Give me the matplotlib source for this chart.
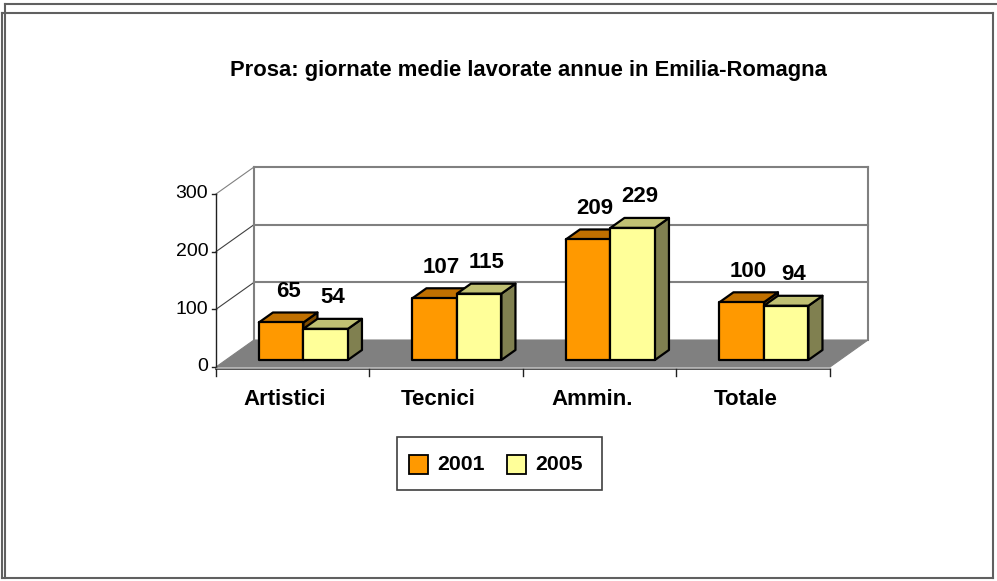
import numpy as np
import matplotlib
matplotlib.use('Agg')
import matplotlib.pyplot as plt
from matplotlib.patches import Polygon, Rectangle
from matplotlib.lines import Line2D

plt.rcParams['font.family'] = ['Liberation Sans', 'DejaVu Sans']

# Data
categories = ['Artistici', 'Tecnici', 'Ammin.', 'Totale']
series_names = ['2001', '2005']
values_2001 = [65, 107, 209, 100]
values_2005 = [54, 115, 229, 94]
yticks = [0, 100, 200, 300]
title = 'Prosa: giornate medie lavorate annue in Emilia-Romagna'

# colours: front, top, side
colors = {
    '2001': ('#FF9900', '#C07000', '#804C00'),
    '2005': ('#FFFF99', '#C0C073', '#808050'),
}

# pseudo-3d projection (depth d in 0..1)
DX = 0.2476   # category units per full depth
DY = 46.8     # value units per full depth


def proj(x, v, d):
    return (x + d * DX, v + d * DY)


fig = plt.figure(figsize=(9.97, 5.81), dpi=100)
ax = fig.add_axes([0, 0, 1, 1])
ax.set_xlim(-1.407, 5.088)
ax.set_ylim(-371.1, 636.4)
ax.axis('off')

ncat = len(categories)
vmax = yticks[-1]
grid_col = '#808080'

# floor
floor = [proj(0, 0, 0), proj(ncat, 0, 0), proj(ncat, 0, 1), proj(0, 0, 1)]
ax.add_patch(Polygon(floor, closed=True, facecolor='#808080', edgecolor='#808080', lw=0.8, zorder=1))

# back wall gridlines and edges
for t in yticks[1:]:
    xs, ys = zip(proj(0, t, 1), proj(ncat, t, 1))
    ax.plot(xs, ys, color=grid_col, lw=1.5, zorder=1)
    xs, ys = zip(proj(0, t, 0), proj(0, t, 1))
    ax.plot(xs, ys, color='#404040' if t < vmax else grid_col, lw=0.8, zorder=1)
for xe in (0, ncat):
    xs, ys = zip(proj(xe, 0, 1), proj(xe, vmax, 1))
    ax.plot(xs, ys, color=grid_col, lw=1.5, zorder=1)

# value axis (front left)
ax.plot([0, 0], [0, vmax], color='#202020', lw=1.0, zorder=2)
for t in yticks:
    ax.plot([-0.025, 0], [t, t], color='#202020', lw=1.0, zorder=2)
    ax.text(-0.05, t, str(t), ha='right', va='center', fontsize=14, zorder=3)

# category axis
ax.plot([0, ncat], [-4, -4], color='#202020', lw=1.2, zorder=2)
ax.plot([0, ncat], [-1.5, -1.5], color='#A0A0A0', lw=1.0, zorder=2)
for i in range(ncat + 1):
    ax.plot([i, i], [-4, -16], color='#202020', lw=1.0, zorder=2)
for i, c in enumerate(categories):
    ax.text(i + 0.45, -57, c, ha='center', va='center', fontsize=16, fontweight='bold', zorder=3)

# bars
bar_w = 0.29
d0, d1 = 0.26, 0.63
z = 5
for i in range(ncat):
    center = i + 0.505
    for k, (name, vals) in enumerate(zip(series_names, [values_2001, values_2005])):
        v = vals[i]
        x0 = center - bar_w + k * bar_w
        x1 = x0 + bar_w
        front_c, top_c, side_c = colors[name]
        front = [proj(x0, 0, d0), proj(x1, 0, d0), proj(x1, v, d0), proj(x0, v, d0)]
        top = [proj(x0, v, d0), proj(x1, v, d0), proj(x1, v, d1), proj(x0, v, d1)]
        side = [proj(x1, 0, d0), proj(x1, 0, d1), proj(x1, v, d1), proj(x1, v, d0)]
        for poly, col in ((side, side_c), (top, top_c), (front, front_c)):
            ax.add_patch(Polygon(poly, closed=True, facecolor=col, edgecolor='black',
                                 lw=1.6, joinstyle='round', zorder=z))
        z += 1
        lx, ly = proj(x0 + bar_w / 2, v, (d0 + d1) / 2)
        ax.text(lx, ly + 45, str(v), ha='center', va='center', fontsize=16,
                fontweight='bold', zorder=20)

# title
fig.text(0.530, 0.879, title, ha='center', va='center', fontsize=15.8, fontweight='bold')

# legend
W, H = 997.0, 581.0
fig.add_artist(Rectangle((397 / W, 1 - 490 / H), 205 / W, 53 / H, transform=fig.transFigure,
                         facecolor='white', edgecolor='#404040', lw=1.2))
for k, name in enumerate(series_names):
    sx = 409 + k * 98
    fig.add_artist(Rectangle((sx / W, 1 - 474 / H), 19 / W, 19 / H, transform=fig.transFigure,
                             facecolor=colors[name][0], edgecolor='black', lw=1.3))
    fig.text((sx + 28) / W, 1 - 464 / H, name, ha='left', va='center', fontsize=15.3, fontweight='bold')

# outer frame lines
frame = [
    ([5, 997], [3.5, 3.5]),
    ([5, 5], [3.5, 578]),
    ([2, 993], [13, 13]),
    ([2, 2], [13, 578]),
    ([993, 993], [13, 578]),
    ([2, 993], [578, 578]),
]
for xs, ys in frame:
    fig.add_artist(Line2D([x / W for x in xs], [1 - y / H for y in ys], transform=fig.transFigure,
                          color='#606060', lw=1.5))

fig.savefig('out.png', dpi=100)
